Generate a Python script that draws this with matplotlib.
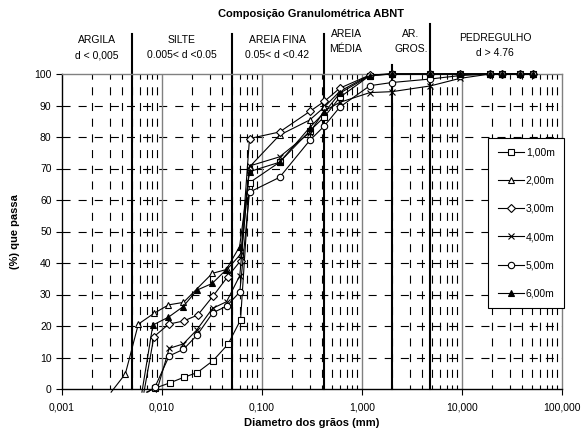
import matplotlib
matplotlib.use("Agg")
import matplotlib.pyplot as plt
from matplotlib.lines import Line2D
import numpy as np

plt.rcParams['font.family'] = ['Liberation Sans', 'DejaVu Sans']
plt.rcParams['lines.scale_dashes'] = False

# ---------------- data ----------------
labels = ["1,00m", "2,00m", "3,00m", "4,00m", "5,00m", "6,00m"]

d_1m = [0.0070, 0.0086, 0.0121, 0.0165, 0.0225, 0.0324, 0.0457, 0.061, 0.075, 0.15, 0.3, 0.42, 0.6, 1.2, 2.0, 4.8, 9.5, 19.1, 25.4, 38.1, 50.8]
v_1m = [-1.0, 0.3, 2.0, 3.7, 5.2, 9.0, 14.2, 21.9, 65.5, 72.0, 81.9, 86.4, 92.6, 99.5, 100, 100, 100, 100, 100, 100, 100]

d_2m = [0.0031, 0.0043, 0.0058, 0.0083, 0.0116, 0.0164, 0.0318, 0.0448, 0.062, 0.075, 0.15, 0.3, 0.42, 0.6, 1.2, 2.0, 4.8, 9.5, 19.1, 25.4, 38.1, 50.8]
v_2m = [-1.0, 4.8, 20.6, 24.0, 26.7, 27.5, 36.7, 38.0, 43.0, 70.5, 80.6, 85.4, 89.5, 94.5, 99.7, 100, 100, 100, 100, 100, 100, 100]

d_3m = [0.0066, 0.0083, 0.0117, 0.0165, 0.0228, 0.0324, 0.0455, 0.061, 0.075, 0.15, 0.3, 0.42, 0.6, 1.2, 2.0, 4.8, 9.5, 19.1, 25.4, 38.1, 50.8]
v_3m = [-1.0, 16.6, 20.6, 21.6, 23.5, 29.5, 35.7, 40.7, 79.5, 81.6, 88.1, 91.3, 95.5, 99.7, 100, 100, 100, 100, 100, 100, 100]

d_4m = [0.0088, 0.0118, 0.0163, 0.0222, 0.0320, 0.0442, 0.060, 0.075, 0.15, 0.3, 0.42, 0.6, 1.2, 2.0, 4.8, 9.5, 19.1, 25.4, 38.1, 50.8]
v_4m = [-1.0, 12.9, 14.3, 18.7, 25.6, 27.7, 36.0, 70.8, 73.7, 81.4, 88.3, 91.0, 94.1, 94.4, 96.2, 98.6, 100, 100, 100, 100]

d_5m = [0.0072, 0.0085, 0.0118, 0.0164, 0.0224, 0.0322, 0.0443, 0.060, 0.075, 0.15, 0.3, 0.42, 0.6, 1.2, 2.0, 4.8, 9.5, 19.1, 25.4, 38.1, 50.8]
v_5m = [-1.0, 0.6, 10.5, 12.6, 17.1, 24.2, 26.3, 30.8, 62.5, 67.2, 78.9, 83.5, 89.5, 96.3, 97.3, 98.4, 99.5, 100, 100, 100, 100]

d_6m = [0.0063, 0.0081, 0.0116, 0.0162, 0.0224, 0.0317, 0.0437, 0.0597, 0.075, 0.15, 0.3, 0.42, 0.6, 1.2, 2.0, 4.8, 9.5, 19.1, 25.4, 38.1, 50.8]
v_6m = [-1.0, 20.3, 22.8, 26.1, 31.4, 33.5, 37.8, 45.2, 69.0, 72.0, 83.0, 87.8, 93.9, 99.5, 100, 100, 100, 100, 100, 100, 100]

x_ticks = [0.001, 0.01, 0.1, 1, 10, 100]
x_tick_labels = ["0,001", "0,010", "0,100", "1,000", "10,000", "100,000"]
y_ticks = [0, 10, 20, 30, 40, 50, 60, 70, 80, 90, 100]

boundaries = [0.005, 0.05, 0.42, 2.0, 4.76]
zones = [("ARGILA", "d < 0,005"), ("SILTE", "0.005< d <0.05"), ("AREIA FINA", "0.05< d <0.42"),
         ("AREIA", "MÉDIA"), ("AR.", "GROS."), ("PEDREGULHO", "d > 4.76")]

# ---------------- figure ----------------
W, H = 584, 432
fig = plt.figure(figsize=(W / 100, H / 100), dpi=100)
L, R, B, T = 62, 562, 389, 74
ax = fig.add_axes([L / W, 1 - B / H, (R - L) / W, (B - T) / H])
ax.set_xscale('log')
ax.set_xlim(0.001, 100)
ax.set_ylim(0, 100)

# gridlines
for yv in y_ticks[1:-1]:
    ax.plot([0.001, 100], [yv, yv], color='black', lw=0.8,
            dashes=(5.8, 5.8), zorder=1)
for e in range(-3, 2):
    for k in range(2, 10):
        xv = k * 10.0 ** e
        ax.plot([xv, xv], [0, 100], color='black', lw=0.8,
                linestyle=(2.9, (5.8, 5.5)), zorder=1)
    if e > -3:
        ax.plot([10.0 ** e, 10.0 ** e], [0, 100], color='#808080', lw=1.0, zorder=1.5)

# boundary lines (extend above plot)
tops = [1.127, 1.127, 1.127, 1.03, 1.16]
for bx, tp in zip(boundaries, tops):
    ax.add_line(Line2D([bx, bx], [0, tp], transform=ax.get_xaxis_transform(),
                       color='black', lw=1.5, clip_on=False, zorder=2))

# series
markers = ['s', '^', 'D', 'x', 'o', '^']
mfcs = ['white', 'white', 'white', 'black', 'white', 'black']
msizes = [4.2, 4.8, 3.8, 5.0, 4.6, 4.6]
series = [(d_1m, v_1m), (d_2m, v_2m), (d_3m, v_3m), (d_4m, v_4m), (d_5m, v_5m), (d_6m, v_6m)]
for (dd, vv), lab, mk, fc, ms in zip(series, labels, markers, mfcs, msizes):
    vis = [i for i, v in enumerate(vv) if v >= 0]
    ax.plot(dd, vv, color='black', lw=0.8, marker=mk, mfc=fc, mec='black',
            mew=0.8, ms=ms, markevery=vis, label=lab, clip_on=False, zorder=3)

# spines / ticks
for s in ['left', 'bottom']:
    ax.spines[s].set_color('black')
    ax.spines[s].set_linewidth(1.0)
for s in ['top', 'right']:
    ax.spines[s].set_color('#808080')
    ax.spines[s].set_linewidth(1.0)
ax.set_xticks(x_ticks)
ax.set_xticklabels(x_tick_labels)
ax.minorticks_off()
ax.xaxis.set_minor_locator(matplotlib.ticker.NullLocator())
ax.set_yticks(y_ticks)
ax.tick_params(axis='both', direction='out', length=4, width=0.8, labelsize=7.5, colors='black')
ax.tick_params(axis='x', pad=6)
ax.set_xlabel("Diametro dos grãos (mm)", fontsize=8, fontweight='bold', labelpad=4)
ax.set_ylabel("(%) que passa", fontsize=8, fontweight='bold', labelpad=10)

# title and zone headers
fig.text(311 / W, 1 - 14 / H, "Composição Granulométrica ABNT", ha='center', va='center',
         fontsize=8, fontweight='bold')
zone_x = [97, 182, 277, 346, 411, 495]
zone_y = [(40, 55), (40, 55), (40, 55), (34, 49), (34, 49), (38, 53)]
for (t1, t2), zx, (y1, y2) in zip(zones, zone_x, zone_y):
    fig.text(zx / W, 1 - y1 / H, t1, ha='center', va='center', fontsize=7.5)
    fig.text(zx / W, 1 - y2 / H, t2, ha='center', va='center', fontsize=7.5)

leg = ax.legend(loc='upper right', bbox_to_anchor=(564 / W, 1 - 138 / H),
                bbox_transform=fig.transFigure, fontsize=7.5, frameon=True,
                fancybox=False, edgecolor='black', framealpha=1, borderaxespad=0,
                labelspacing=1.75, handlelength=2.5, handletextpad=0.2,
                borderpad=0.9)
leg.get_frame().set_linewidth(0.8)
leg.set_zorder(5)

fig.savefig("out.png", dpi=100)
